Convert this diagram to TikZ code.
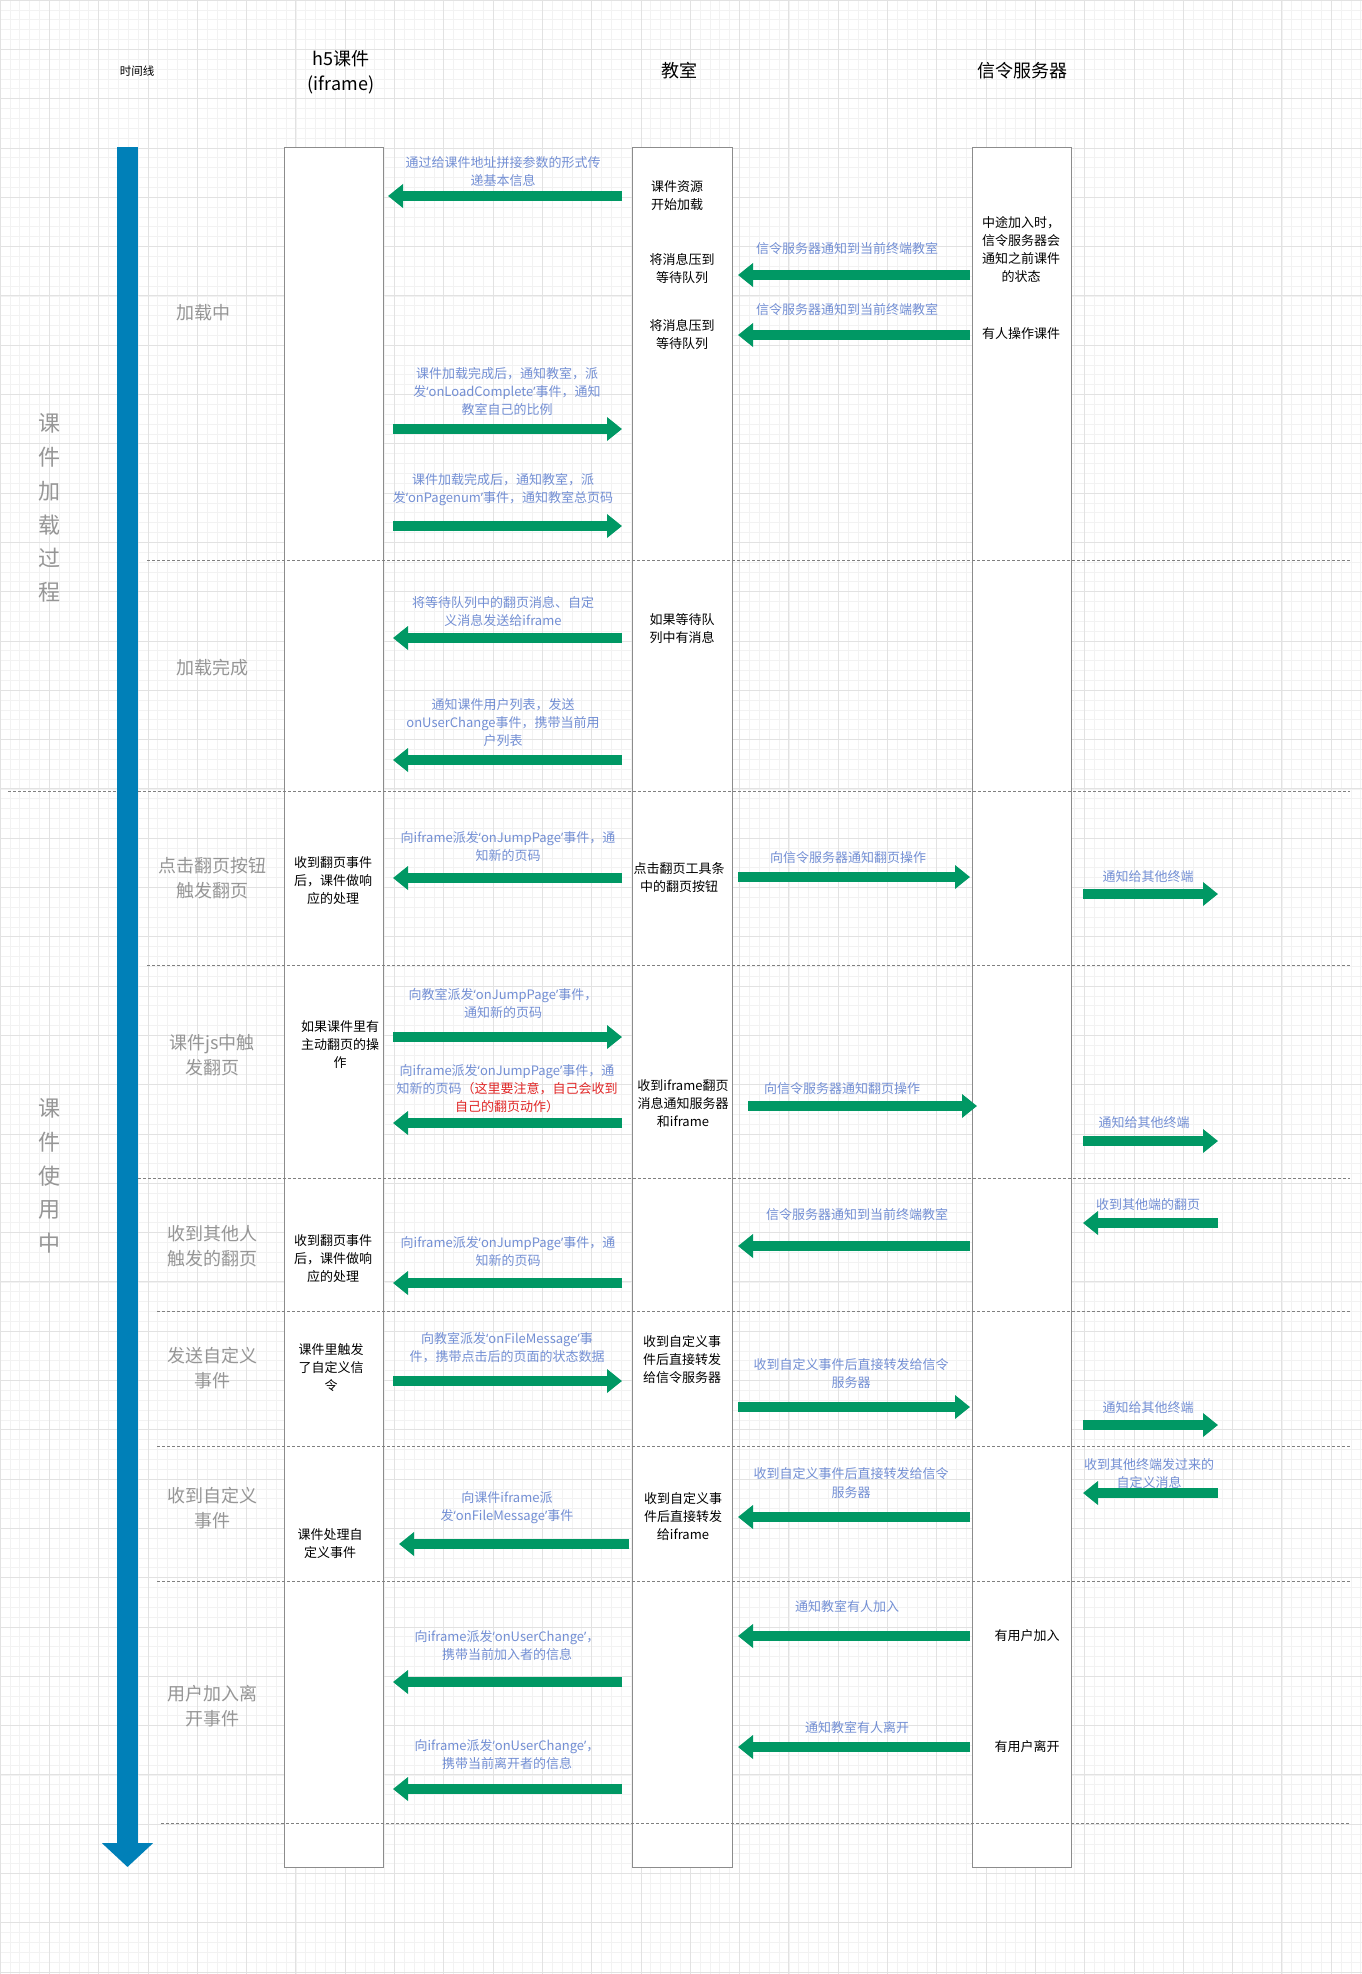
\documentclass[tikz,border=0pt]{standalone}
\usepackage{fontspec}
\setmainfont{Noto Sans CJK SC}
\newfontfamily\qfont{Noto Sans}
\newcommand{\qo}{{\qfont ‘}}
\newcommand{\qc}{{\qfont ’}}
\usetikzlibrary{arrows.meta}

\definecolor{msggreen}{RGB}{0,152,100}
\definecolor{timeblue}{RGB}{0,128,184}
\definecolor{lblblue}{RGB}{115,143,212}
\definecolor{warnred}{RGB}{225,40,40}
\definecolor{stagegray}{RGB}{150,150,150}
\definecolor{lanegray}{RGB}{140,140,140}
\definecolor{gridminor}{RGB}{242,242,242}
\definecolor{gridmajor}{RGB}{226,226,226}

\tikzset{
  lane/.style={draw=lanegray, line width=1pt, fill=white, anchor=north west, minimum height=1720pt},
  msg/.style={msggreen, line width=10.5pt, -{Triangle[length=15pt,width=23pt]}},
  lbl/.style={text=lblblue, font=\fontsize{13}{18}\selectfont, align=center, inner sep=0pt},
  note/.style={font=\fontsize{13}{18}\selectfont, align=center, inner sep=0pt},
  stage/.style={text=stagegray, font=\fontsize{18}{25.5}\selectfont, align=center, inner sep=0pt},
  phase/.style={text=stagegray, font=\fontsize{22}{33.7}\selectfont, align=center, inner sep=0pt},
  head/.style={font=\fontsize{18}{25}\selectfont, align=center, inner sep=0pt},
  sep/.style={draw=gray, line width=0.8pt, dash pattern=on 3pt off 2pt},
}

\begin{document}
\begin{tikzpicture}[x=1pt,y=-1pt]
\useasboundingbox (0,0) rectangle (1362,1974);
\fill[white] (0,0) rectangle (1362,1974);
\draw[gridminor, line width=0.6pt, step=9.86pt] (0,0) grid (1362,1974);
\draw[gridmajor, line width=0.8pt, step=49.3pt] (0,0) grid (1362,1974);

% headers
\node[font=\fontsize{11.5}{14}\selectfont] (tline) at (137,71) {时间线};
\node[head] (hh5) at (341,72) {h5课件\\(iframe)};
\node[head] (hroom) at (679,71) {教室};
\node[head] (hsrv) at (1022,71) {信令服务器};

% lanes
\node[lane, minimum width=99pt] (h5) at (284,147) {};
\node[lane, minimum width=100pt] (room) at (632,147) {};
\node[lane, minimum width=99pt] (srv) at (972,147) {};

% separators
\foreach \x/\y in {147/560, 8/791, 147/965, 138/1178, 157/1311, 157/1446, 157/1581, 161/1823}
  \draw[sep] (\x,\y) -- (1350,\y);

% time line
\coordinate (t0) at (127.5,147);
\coordinate (t1) at (127.5,1867);
\draw[timeblue, line width=21pt, -{Triangle[length=24pt,width=50pt]}] (t0) -- (t1);

\node[phase] (ph1) at (49,508) {课\\件\\加\\载\\过\\程};
\node[phase] (ph2) at (49,1176) {课\\件\\使\\用\\中};

\node[stage] (st1) at (203,313) {加载中};
\node[stage] (st2) at (212,668) {加载完成};
\node[stage] (st3) at (212,878) {点击翻页按钮\\触发翻页};
\node[stage] (st4) at (212,1055) {课件js中触\\发翻页};
\node[stage] (st5) at (212,1246) {收到其他人\\触发的翻页};
\node[stage] (st6) at (212,1368) {发送自定义\\事件};
\node[stage] (st7) at (212,1508) {收到自定义\\事件};
\node[stage] (st8) at (212,1706) {用户加入离\\开事件};

% columns for the messages
\coordinate (hE) at (393,0);
\coordinate (rW) at (622,0);
\coordinate (rE) at (738,0);
\coordinate (sW) at (970,0);
\coordinate (oL) at (1083,0);
\coordinate (oR) at (1218,0);

% notes in the lanes
\node[note] (r1) at (677,195.5) {课件资源\\开始加载};
\node[note] (r2) at (682,268.5) {将消息压到\\等待队列};
\node[note] (r3) at (682,335) {将消息压到\\等待队列};
\node[note] (r4) at (682,629) {如果等待队\\列中有消息};
\node[note] (r5) at (679,877.5) {点击翻页工具条\\中的翻页按钮};
\node[note] (r6) at (683,1104) {收到iframe翻页\\消息通知服务器\\和iframe};
\node[note] (r7) at (682,1360) {收到自定义事\\件后直接转发\\给信令服务器};
\node[note] (r8) at (683,1517) {收到自定义事\\件后直接转发\\给iframe};
\node[note] (s1) at (1021,249) {中途加入时，\\信令服务器会\\通知之前课件\\的状态};
\node[note] (s2) at (1021,334) {有人操作课件};
\node[note] (s3) at (1027,1636) {有用户加入};
\node[note] (s4) at (1027,1747) {有用户离开};
\node[note] (c1) at (333,880.5) {收到翻页事件\\后，课件做响\\应的处理};
\node[note] (c2) at (340,1045) {如果课件里有\\主动翻页的操\\作};
\node[note] (c3) at (333,1259) {收到翻页事件\\后，课件做响\\应的处理};
\node[note] (c4) at (331,1368) {课件里触发\\了自定义信\\令};
\node[note] (c5) at (330,1544) {课件处理自\\定义事件};

% messages
\draw[msg, shorten >=-5pt] (rW |- 0,196) -- (hE |- 0,196);
\node[lbl] (m1) at (503,171.5) {通过给课件地址拼接参数的形式传\\递基本信息};
\draw[msg] (sW |- 0,275) -- (rE |- 0,275);
\node[lbl] (m2) at (847,249) {信令服务器通知到当前终端教室};
\draw[msg] (sW |- 0,335) -- (rE |- 0,335);
\node[lbl] (m3) at (847,310) {信令服务器通知到当前终端教室};
\draw[msg] (hE |- 0,429) -- (rW |- 0,429);
\node[lbl] (m4) at (507,392) {课件加载完成后，通知教室，派\\发\qo onLoadComplete\qc 事件，通知\\教室自己的比例};
\draw[msg] (hE |- 0,526) -- (rW |- 0,526);
\node[lbl] (m5) at (503,490) {课件加载完成后，通知教室，派\\发\qo onPagenum\qc 事件，通知教室总页码};
\draw[msg] (rW |- 0,638) -- (hE |- 0,638);
\node[lbl] (m6) at (503,611.5) {将等待队列中的翻页消息、自定\\义消息发送给iframe};
\draw[msg] (rW |- 0,760) -- (hE |- 0,760);
\node[lbl] (m7) at (503,723) {通知课件用户列表，发送\\onUserChange事件，携带当前用\\户列表};

\draw[msg] (rW |- 0,878) -- (hE |- 0,878);
\node[lbl] (m8) at (508,847) {向iframe派发\qo onJumpPage\qc 事件，通\\知新的页码};
\draw[msg] (rE |- 0,877) -- (sW |- 0,877);
\node[lbl] (m9) at (848,858) {向信令服务器通知翻页操作};
\draw[msg] (oL |- 0,894) -- (oR |- 0,894);
\node[lbl] (m10) at (1148,877) {通知给其他终端};

\draw[msg] (hE |- 0,1037) -- (rW |- 0,1037);
\node[lbl] (m11) at (503,1003) {向教室派发\qo onJumpPage\qc 事件，\\通知新的页码};
\draw[msg] (rW |- 0,1123) -- (hE |- 0,1123);
\node[lbl] (m12) at (507,1089) {向iframe派发\qo onJumpPage\qc 事件，通\\知新的页码\textcolor{warnred}{（这里要注意，自己会收到}\\\textcolor{warnred}{自己的翻页动作）}};
\draw[msg, shorten <=10pt, shorten >=-7pt] (rE |- 0,1106) -- (sW |- 0,1106);
\node[lbl] (m13) at (842,1089) {向信令服务器通知翻页操作};
\draw[msg] (oL |- 0,1141) -- (oR |- 0,1141);
\node[lbl] (m14) at (1144,1123) {通知给其他终端};

\draw[msg] (sW |- 0,1246) -- (rE |- 0,1246);
\node[lbl] (m15) at (857,1215) {信令服务器通知到当前终端教室};
\draw[msg] (oR |- 0,1223) -- (oL |- 0,1223);
\node[lbl] (m16) at (1148,1205) {收到其他端的翻页};
\draw[msg] (rW |- 0,1283) -- (hE |- 0,1283);
\node[lbl] (m17) at (508,1251.5) {向iframe派发\qo onJumpPage\qc 事件，通\\知新的页码};

\draw[msg] (hE |- 0,1381) -- (rW |- 0,1381);
\node[lbl] (m18) at (507,1348) {向教室派发\qo onFileMessage\qc 事\\件，携带点击后的页面的状态数据};
\draw[msg] (rE |- 0,1407) -- (sW |- 0,1407);
\node[lbl] (m19) at (851,1374) {收到自定义事件后直接转发给信令\\服务器};
\draw[msg] (oL |- 0,1425) -- (oR |- 0,1425);
\node[lbl] (m20) at (1148,1408) {通知给其他终端};

\draw[msg] (sW |- 0,1517) -- (rE |- 0,1517);
\node[lbl] (m21) at (851,1483) {收到自定义事件后直接转发给信令\\服务器};
\draw[msg] (oR |- 0,1493) -- (oL |- 0,1493);
\node[lbl] (m22) at (1149,1474) {收到其他终端发过来的\\自定义消息};
\draw[msg, shorten <=-7pt, shorten >=6pt] (rW |- 0,1544) -- (hE |- 0,1544);
\node[lbl] (m23) at (507,1507.5) {向课件iframe派\\发\qo onFileMessage\qc 事件};

\draw[msg] (sW |- 0,1636) -- (rE |- 0,1636);
\node[lbl] (m24) at (847,1606) {通知教室有人加入};
\draw[msg] (rW |- 0,1682) -- (hE |- 0,1682);
\node[lbl] (m25) at (507,1645.5) {向iframe派发\qo onUserChange\qc，\\携带当前加入者的信息};
\draw[msg] (sW |- 0,1747) -- (rE |- 0,1747);
\node[lbl] (m26) at (857,1727) {通知教室有人离开};
\draw[msg] (rW |- 0,1789) -- (hE |- 0,1789);
\node[lbl] (m27) at (507,1755) {向iframe派发\qo onUserChange\qc，\\携带当前离开者的信息};
\end{tikzpicture}
\end{document}
